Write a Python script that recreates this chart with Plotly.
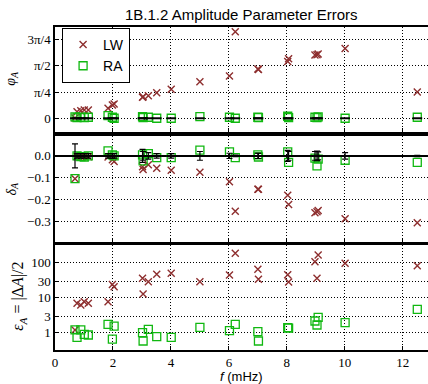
import plotly.graph_objects as go
import math

freq = [0.69, 0.76, 0.89, 1.01, 1.15, 1.83, 1.98, 2.04, 3.02, 3.04, 3.22, 3.51, 4.01,
        5.0, 6.02, 6.22, 7.0, 7.02, 8.03, 8.06, 8.97, 9.04, 9.08, 10.01, 12.5]

lw_phi = [0.01, 0.197, 0.227, 0.248, 0.248, 0.30, 0.40, 0.43, 0.63, 0.645, 0.675, 0.765, 0.866,
          1.09, 1.263, 2.586, 1.472, 1.46, 1.70, 1.78, 1.89, 1.90, 1.92, 2.09, 0.785]
ra_phi = [0.04, 0.02, 0.03, 0.02, 0.03, 0.078, 0.03, 0.0, 0.05, 0.02, 0.03, 0.0, 0.0,
          0.05, 0.03, 0.0, 0.03, 0.02, 0.06, 0.02, 0.03, 0.02, 0.04, 0.0, 0.03]

lw_delta = [-0.104, -0.003, -0.004, -0.003, -0.004, -0.005, -0.018, -0.026, -0.05, -0.062, -0.04,
            -0.057, -0.066, -0.075, -0.118, -0.253, -0.153, -0.153, -0.18, -0.222, -0.26, -0.255,
            -0.25, -0.287, -0.306]
ra_delta = [-0.104, 0.0, -0.003, -0.005, 0.0, 0.023, 0.005, 0.0, 0.005, -0.023, 0.01, -0.008,
            -0.008, 0.026, 0.018, -0.008, 0.005, -0.005, 0.018, -0.03, -0.01, -0.046, -0.015,
            -0.02, -0.03]
err_center = [0.0] * len(freq)
err_size = [0.055, 0.01, 0.01, 0.01, 0.01, 0.01, 0.01, 0.01, 0.03, 0.02, 0.015, 0.01, 0.01,
            0.02, 0.012, 0.004, 0.012, 0.012, 0.025, 0.02, 0.02, 0.022, 0.018, 0.015, 0.003]

lw_eps = [1.2, 6.9, 6.2, 7.7, 6.9, 7.7, 24, 20.6, 35.8, 12.8, 28.6, 46.6, 49.8,
          28.6, 44.5, 186, 64.8, 33.5, 45.4, 28.1, 107, 35.8, 166, 96, 82]
ra_eps = [1.2, 0.74, 1.2, 0.9, 0.86, 1.74, 0.66, 1.55, 1.0, 0.58, 1.25, 0.77, 0.74,
          1.43, 1.14, 1.74, 1.07, 0.58, 1.39, 1.36, 2.16, 1.66, 2.75, 1.93, 4.66]

phi_ticks = [0, math.pi / 4, math.pi / 2, 3 * math.pi / 4]
phi_labels = ["0", "π/4", "π/2", "3π/4"]
delta_ticks = [0.0, -0.1, -0.2, -0.3]
delta_labels = ["0.0", "−0.1", "−0.2", "−0.3"]
eps_ticks = [1, 3, 10, 30, 100]
eps_labels = ["1", "3", "10", "30", "100"]
x_ticks = [0, 2, 4, 6, 8, 10, 12]

LW_COLOR = "#8e2f2f"
RA_COLOR = "#10b810"
SERIF = "Liberation Serif"
SANS = "Liberation Sans"
GRID_DASH = "1px,2px"

fig = go.Figure()

panels = [("y", lw_phi, ra_phi), ("y2", lw_delta, ra_delta), ("y3", lw_eps, ra_eps)]
xaxes = {"y": "x", "y2": "x2", "y3": "x3"}
for i, (ya, lw, ra) in enumerate(panels):
    xa = xaxes[ya]
    fig.add_trace(go.Scatter(x=freq, y=lw, mode="markers", name="LW", xaxis=xa, yaxis=ya,
                             showlegend=(i == 0),
                             marker=dict(symbol="x-thin", size=7, line=dict(color=LW_COLOR, width=1.4))))
    fig.add_trace(go.Scatter(x=freq, y=ra, mode="markers", name="RA", xaxis=xa, yaxis=ya,
                             showlegend=(i == 0),
                             marker=dict(symbol="square-open", size=8, color=RA_COLOR,
                                         line=dict(color=RA_COLOR, width=1.3))))

# black reference markers with error bars
fig.add_trace(go.Scatter(x=freq, y=err_center, mode="markers", xaxis="x", yaxis="y", showlegend=False,
                         marker=dict(symbol="line-ew", size=7, line=dict(color="black", width=2))))
fig.add_trace(go.Scatter(x=freq, y=err_center, mode="markers", xaxis="x2", yaxis="y2", showlegend=False,
                         error_y=dict(type="data", array=err_size, color="black", thickness=1.2, width=3),
                         marker=dict(symbol="line-ew", size=7, line=dict(color="black", width=2))))

common_x = dict(range=[0, 12.87], tickvals=x_ticks, showgrid=True, gridcolor="black", griddash=GRID_DASH,
                gridwidth=1, showline=True, linecolor="black", linewidth=1.5, mirror=True,
                ticks="inside", ticklen=4, tickcolor="black", zeroline=False,
                tickfont=dict(family=SERIF, size=13, color="black"))
common_y = dict(showgrid=True, gridcolor="black", griddash=GRID_DASH, gridwidth=1, showline=True,
                linecolor="black", linewidth=1.5, mirror=False, ticks="inside", ticklen=4,
                tickcolor="black", tickfont=dict(family=SERIF, size=13, color="black"))

fig.update_layout(
    width=428, height=384,
    margin=dict(l=55, r=0, t=27, b=34),
    paper_bgcolor="white", plot_bgcolor="white",
    xaxis=dict(common_x, anchor="y", showticklabels=False),
    xaxis2=dict(common_x, anchor="y2", matches="x", showticklabels=False),
    xaxis3=dict(common_x, anchor="y3", matches="x", showticklabels=True),
    yaxis=dict(common_y, domain=[0.675, 1.0], range=[-0.41, 2.73], tickvals=phi_ticks,
               ticktext=phi_labels, zeroline=False, anchor="x"),
    yaxis2=dict(common_y, domain=[0.334, 0.664], range=[-0.394, 0.093], tickvals=delta_ticks,
                ticktext=delta_labels, zeroline=True, zerolinecolor="black", zerolinewidth=1.5,
                anchor="x2"),
    yaxis3=dict(common_y, domain=[0.0, 0.325], type="log", range=[-0.494, 2.506],
                tickvals=eps_ticks, ticktext=eps_labels, zeroline=False, anchor="x3"),
    legend=dict(x=0.019, y=0.997, xanchor="left", yanchor="top", bgcolor="white",
                bordercolor="black", borderwidth=1, font=dict(family=SANS, size=14, color="black"),
                itemwidth=30, tracegroupgap=0),
    showlegend=True,
)

fig.add_annotation(text="1B.1.2 Amplitude Parameter Errors", x=0.5, y=1.0, xref="paper", yref="paper",
                   xanchor="center", yanchor="bottom", yshift=2, showarrow=False,
                   font=dict(family=SANS, size=15, color="black"))
fig.add_annotation(text="<i>f</i> (mHz)", x=0.5, y=0, xref="paper", yref="paper", xanchor="center",
                   yanchor="middle", yshift=-26, showarrow=False,
                   font=dict(family=SANS, size=13, color="black"))
fig.add_annotation(text="<i>φ</i><sub><i>A</i></sub>", x=0, xref="paper", y=0.84, yref="paper",
                   xanchor="center", yanchor="middle", xshift=-43, textangle=-90, showarrow=False,
                   font=dict(family=SERIF, size=14, color="black"))
fig.add_annotation(text="<i>δ</i><sub><i>A</i></sub>", x=0, xref="paper", y=0.5, yref="paper",
                   xanchor="center", yanchor="middle", xshift=-43, textangle=-90, showarrow=False,
                   font=dict(family=SERIF, size=14, color="black"))
fig.add_annotation(text="<i>ε</i><sub><i>A</i></sub> = |Δ<i>A</i>|/2", x=0, xref="paper", y=0.165,
                   yref="paper", xanchor="center", yanchor="middle", xshift=-36, textangle=-90,
                   showarrow=False, font=dict(family=SERIF, size=16, color="black"))

fig.write_html("out.html")
